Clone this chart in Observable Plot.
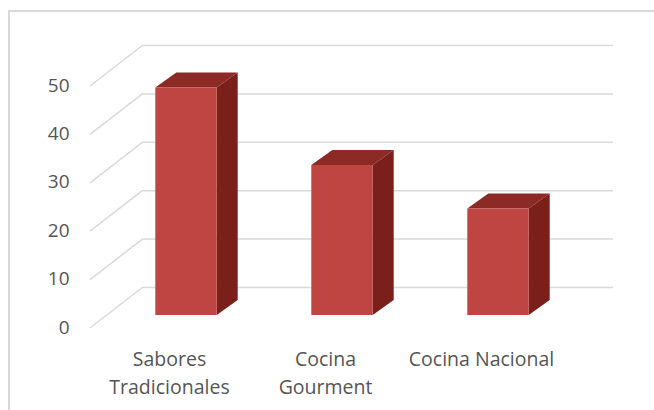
<!DOCTYPE html>
<html>
<head>
<meta charset="utf-8">
<script src="https://cdn.jsdelivr.net/npm/d3@7"></script>
<script src="https://cdn.jsdelivr.net/npm/@observablehq/plot@0.6"></script>
<style>
  html, body { margin: 0; padding: 0; background: #fff; }
  #wrap { position: relative; width: 654px; height: 410px; overflow: hidden; }
  #frame { position: absolute; left: 8px; top: 10px; width: 700px; height: 500px;
           border-left: 2px solid #d9d9d9; border-top: 2px solid #d9d9d9; box-sizing: border-box; }
  #chart { position: absolute; left: 0; top: 0; }
</style>
</head>
<body>
<div id="wrap"><div id="frame"></div><div id="chart"></div></div>
<script>
const categories = ["Sabores Tradicionales", "Cocina Gourment", "Cocina Nacional"];
const categoryLabels = ["Sabores\nTradicionales", "Cocina\nGourment", "Cocina Nacional"];
const values = [47, 31, 22];
const yTicks = [0, 10, 20, 30, 40, 50];

const data = categories.map((c, i) => ({category: c, label: categoryLabels[i], value: values[i]}));

// 3D geometry (pixel offsets of the Excel-like perspective)
const WALL_DX = -53, WALL_DY = 41;     // back wall -> front edge of floor
const FACE_DX = -36, FACE_DY = 28;     // back wall -> front face of bars
const DEPTH_DX = 21, DEPTH_DY = -15;   // bar depth
const BAR_INSET = 47.3;

const font = "Open Sans, Liberation Sans, sans-serif";
const textColor = "#555555";

// diagonal gridlines on the side wall
function diagonals(index, scales, values, dimensions) {
  const g = d3.create("svg:g");
  const left = dimensions.marginLeft;
  for (const v of yTicks) {
    const y = scales.y(v);
    g.append("line")
      .attr("x1", left).attr("y1", y)
      .attr("x2", left + WALL_DX).attr("y2", y + WALL_DY)
      .attr("stroke", "#d9d9d9").attr("stroke-width", 1.5);
  }
  return g.node();
}

// top and side faces of the 3D bars
function barDepth(index, scales) {
  const g = d3.create("svg:g");
  const bw = scales.x.bandwidth();
  for (const d of data) {
    const xl = scales.x(d.category) + BAR_INSET + FACE_DX;
    const xr = scales.x(d.category) + bw - BAR_INSET + FACE_DX;
    const yt = scales.y(d.value) + FACE_DY;
    const yb = scales.y(0) + FACE_DY;
    g.append("polygon")
      .attr("points", [[xl, yt], [xl + DEPTH_DX, yt + DEPTH_DY], [xr + DEPTH_DX, yt + DEPTH_DY], [xr, yt]].join(" "))
      .attr("fill", "#8c2a25");
    g.append("polygon")
      .attr("points", [[xr, yt], [xr + DEPTH_DX, yt + DEPTH_DY], [xr + DEPTH_DX, yb + DEPTH_DY], [xr, yb]].join(" "))
      .attr("fill", "#7a1f1a");
  }
  return g.node();
}

const chart = Plot.plot({
  width: 654,
  height: 410,
  marginLeft: 143,
  marginRight: 41,
  marginTop: 45,
  marginBottom: 123,
  style: {background: "transparent", fontFamily: font},
  x: {type: "band", domain: categories, padding: 0, axis: null},
  y: {domain: [0, 50], axis: null},
  marks: [
    Plot.ruleY(yTicks, {stroke: "#d9d9d9", strokeWidth: 1.5}),
    diagonals,
    Plot.text(yTicks, {
      y: d => d, text: d => String(d), frameAnchor: "left",
      dx: -74, dy: WALL_DY - 1, textAnchor: "end",
      fill: textColor, fontSize: 19
    }),
    barDepth,
    Plot.barY(data, {
      x: "category", y: "value", fill: "#be4541",
      insetLeft: BAR_INSET, insetRight: BAR_INSET, dx: FACE_DX, dy: FACE_DY
    }),
    Plot.text(data, {
      x: "category", y: () => 0, text: "label",
      dx: WALL_DX, dy: 58, lineAnchor: "top", lineHeight: 1.46,
      fill: textColor, fontSize: 19.5
    })
  ]
});

document.getElementById("chart").appendChild(chart);
</script>
</body>
</html>
